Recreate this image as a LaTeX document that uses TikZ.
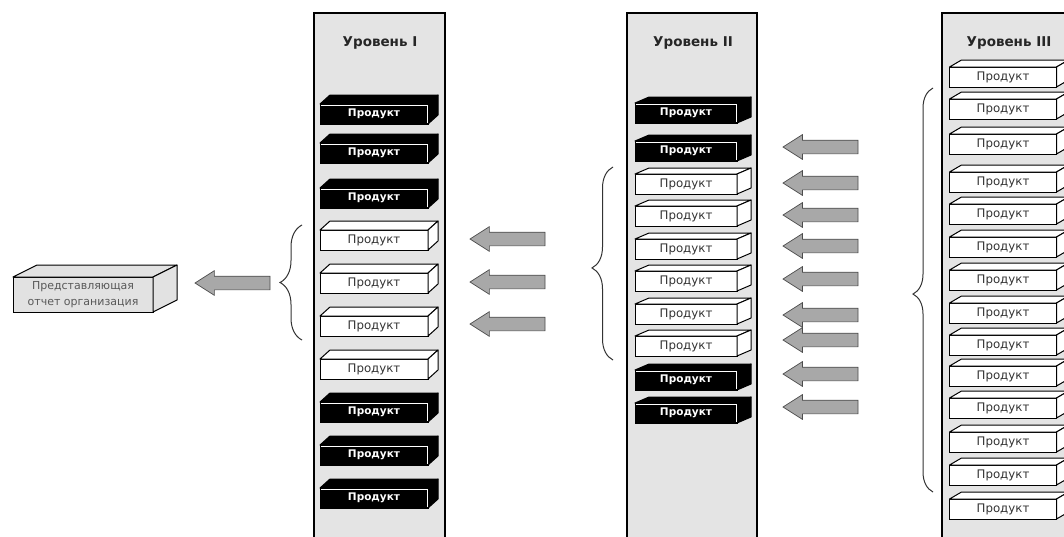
\documentclass[tikz,border=0pt]{standalone}
\usepackage{fontspec}
\setmainfont{DejaVu Sans}
\usetikzlibrary{shapes.arrows,decorations.pathreplacing}
\definecolor{colgray}{HTML}{E4E4E4}
\definecolor{arrgray}{HTML}{A8A8A8}
\definecolor{orggray}{HTML}{E2E2E2}
\tikzset{
 col/.style={draw=black, line width=1.3pt, fill=colgray, anchor=north west, inner sep=0pt, outer sep=0pt},
 lvltitle/.style={font=\fontsize{13.5}{16}\selectfont\bfseries, text=black!85},
 wfront/.style={draw=black, line width=1pt, fill=white, minimum height=20, inner sep=0pt, outer sep=0pt, font=\fontsize{11.8}{12}\selectfont, text=black!80},
 wface/.style={draw=black, line width=1pt, fill=white, line join=round},
 bfront/.style={draw=black, line width=1pt, fill=black, minimum height=20, inner sep=0pt, outer sep=0pt, font=\fontsize{10.5}{12}\selectfont\bfseries, text=white},
 bface/.style={draw=black, line width=1pt, fill=black, line join=round},
 orgfront/.style={draw=black, line width=1pt, fill=orggray, minimum width=140, minimum height=35, inner sep=0pt, outer sep=0pt, align=center, font=\fontsize{11}{16}\selectfont, text=black!65},
 orgface/.style={draw=black, line width=1pt, fill=orggray, line join=round},
 larrow/.style={single arrow, shape border rotate=180, draw=black!70, line width=0.7pt, fill=arrgray, minimum height=75, single arrow head extend=5.5, single arrow tip angle=65, inner xsep=0pt, inner ysep=6.5pt, outer sep=0pt, anchor=tip},
 brc/.style={draw=black!80, line width=1pt, decorate, decoration={brace, amplitude=#1}},
}
% #1 name, #2 x, #3 y, #4 width, #5 dx, #6 dy, #7 b or w
\newcommand\pbox[7]{%
 \node[#7front, minimum width=#4] (#1) at (#2,#3) {Продукт};
 \draw[#7face] (#1.north west) -- ++(#5,-#6) -- ++(#4,0) -- (#1.north east) -- cycle;
 \draw[#7face] (#1.north east) -- ++(#5,-#6) -- ++(0,20) -- (#1.south east) -- cycle;
 \if b#7\draw[white, line width=0.6pt] ([xshift=1pt,yshift=-0.9pt]#1.north west) -- ([xshift=-0.9pt,yshift=-0.9pt]#1.north east) -- ([xshift=-0.9pt,yshift=1pt]#1.south east);\fi
}
\begin{document}
\begin{tikzpicture}[x=1pt,y=-1pt]
\useasboundingbox (0,0) rectangle (1064,536);
\fill[white] (0,0) rectangle (1064,536);
% columns
\node[col, minimum width=131, minimum height=540] (c1) at (314,13) {};
\node[col, minimum width=130, minimum height=540] (c2) at (627,13) {};
\node[col, minimum width=140, minimum height=540] (c3) at (942,13) {};
\node[lvltitle] (t1) at (380,43) {Уровень I};
\node[lvltitle] (t2) at (693,43) {Уровень II};
\node[lvltitle] (t3) at (1009,43) {Уровень III};
% level I
\pbox{p11}{374}{114}{108}{10}{9}{b}
\pbox{p12}{374}{153}{108}{10}{9}{b}
\pbox{p13}{374}{198}{108}{10}{9}{b}
\pbox{p14}{374}{240}{108}{10}{9}{w}
\pbox{p15}{374}{283}{108}{10}{9}{w}
\pbox{p16}{374}{326}{108}{10}{9}{w}
\pbox{p17}{374}{369}{108}{10}{9}{w}
\pbox{p18}{374}{412}{108}{10}{9}{b}
\pbox{p19}{374}{455}{108}{10}{9}{b}
\pbox{p110}{374}{498}{108}{10}{9}{b}
% level II
\pbox{p21}{686}{113}{102}{14}{6}{b}
\pbox{p22}{686}{151}{102}{14}{6}{b}
\pbox{p23}{686}{184}{102}{14}{6}{w}
\pbox{p24}{686}{216}{102}{14}{6}{w}
\pbox{p25}{686}{249}{102}{14}{6}{w}
\pbox{p26}{686}{281}{102}{14}{6}{w}
\pbox{p27}{686}{314}{102}{14}{6}{w}
\pbox{p28}{686}{346}{102}{14}{6}{w}
\pbox{p29}{686}{380}{102}{14}{6}{b}
\pbox{p210}{686}{413}{102}{14}{6}{b}
% level III
\pbox{p31}{1003}{77}{107}{12}{7}{w}
\pbox{p32}{1003}{109}{107}{12}{7}{w}
\pbox{p33}{1003}{144}{107}{12}{7}{w}
\pbox{p34}{1003}{182}{107}{12}{7}{w}
\pbox{p35}{1003}{214}{107}{12}{7}{w}
\pbox{p36}{1003}{247}{107}{12}{7}{w}
\pbox{p37}{1003}{280}{107}{12}{7}{w}
\pbox{p38}{1003}{313}{107}{12}{7}{w}
\pbox{p39}{1003}{345}{107}{12}{7}{w}
\pbox{p310}{1003}{376}{107}{12}{7}{w}
\pbox{p311}{1003}{408}{107}{12}{7}{w}
\pbox{p312}{1003}{442}{107}{12}{7}{w}
\pbox{p313}{1003}{475}{107}{12}{7}{w}
\pbox{p314}{1003}{509}{107}{12}{7}{w}
% organisation box
\node[orgfront] (org) at (83,294.5) {Представляющая\\отчет организация};
\draw[orgface] (org.north west) -- ++(24,-12) -- ++(140,0) -- (org.north east) -- cycle;
\draw[orgface] (org.north east) -- ++(24,-12) -- ++(0,35) -- (org.south east) -- cycle;
% arrows
\node[larrow] (a0) at (195,283) {};
\node[larrow] (a11) at (470,239) {};
\node[larrow] (a12) at (470,282) {};
\node[larrow] (a13) at (470,324) {};
\foreach \y [count=\i] in {147,183,215,246,279,315,340,374,407}
 \node[larrow] (a2\i) at (783,\y) {};
% braces
\coordinate (b1s) at (302,340); \coordinate (b1e) at (302,225);
\coordinate (b2s) at (613,360); \coordinate (b2e) at (613,167);
\coordinate (b3s) at (933,492); \coordinate (b3e) at (933,88);
\draw[brc=22] (b1s) -- (b1e);
\draw[brc=21, decoration={aspect=0.477}] (b2s) -- (b2e);
\draw[brc=20, decoration={aspect=0.49}] (b3s) -- (b3e);
\end{tikzpicture}
\end{document}
